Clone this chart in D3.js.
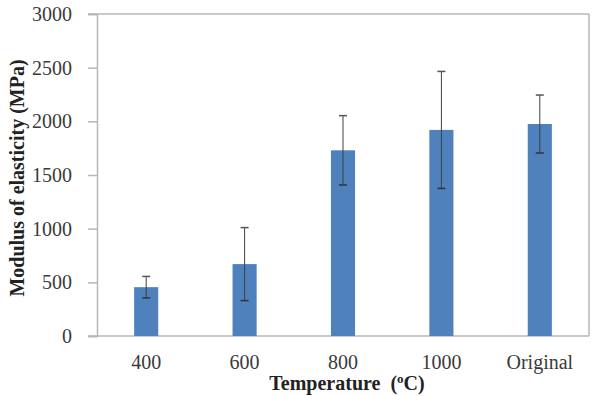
<!DOCTYPE html>
<html>
<head>
<meta charset="utf-8">
<script src="https://cdn.jsdelivr.net/npm/d3@7"></script>
<style>
  body { margin: 0; background: #fff; }
  text { font-family: "Liberation Serif", "Times New Roman", serif; }
</style>
</head>
<body>
<div id="chart-area"></div>
<script>
// Data
let categories = ["400", "600", "800", "1000", "Original"];
let modulus = [455, 670, 1730, 1920, 1975];
let errors = [100, 340, 323, 545, 270];
let yTicks = [0, 500, 1000, 1500, 2000, 2500, 3000];

let margin = {top: 14, right: 9, bottom: 60, left: 97};
let width = 598 - margin.left - margin.right;
let height = 396 - margin.top - margin.bottom;

let svg = d3.select("#chart-area").append("svg")
    .attr("width", 598)
    .attr("height", 396)
    .append("g")
    .attr("transform", "translate(" + margin.left + "," + margin.top + ")");

let xScale = d3.scaleBand()
    .domain(categories)
    .range([0, width])
    .paddingInner(0.755)
    .paddingOuter(0.3775);

let yScale = d3.scaleLinear()
    .domain([0, 3000])
    .range([height, 0]);

let axisColor = "#b7b7b7";

// frame (top and right)
svg.append("line")
    .attr("x1", -9).attr("x2", width)
    .attr("y1", 0).attr("y2", 0)
    .attr("stroke", axisColor).attr("stroke-width", 1.5);
svg.append("line")
    .attr("x1", width).attr("x2", width)
    .attr("y1", 0).attr("y2", height)
    .attr("stroke", axisColor).attr("stroke-width", 1.5);

// y axis
let yAxis = d3.axisLeft(yScale)
    .tickValues(yTicks)
    .tickFormat(d3.format("d"))
    .tickSize(9)
    .tickPadding(16);

let yg = svg.append("g").attr("class", "y-axis").call(yAxis);
yg.select(".domain").attr("stroke", axisColor).attr("stroke-width", 1.5);
yg.selectAll(".tick line").attr("stroke", axisColor).attr("stroke-width", 1.5);
yg.selectAll(".tick text")
    .style("font-family", "Liberation Serif, serif")
    .style("font-size", "20px")
    .attr("fill", "#3a3a3a");

// x axis
let xAxis = d3.axisBottom(xScale)
    .tickSize(0)
    .tickPadding(19);

let xg = svg.append("g")
    .attr("class", "x-axis")
    .attr("transform", "translate(0," + height + ")")
    .call(xAxis);
xg.select(".domain").remove();
xg.selectAll(".tick text")
    .style("font-family", "Liberation Serif, serif")
    .style("font-size", "20px")
    .attr("fill", "#3a3a3a");

// bottom line (extends left like a tick)
svg.append("line")
    .attr("x1", -9).attr("x2", width)
    .attr("y1", height).attr("y2", height)
    .attr("stroke", axisColor).attr("stroke-width", 1.5);

// bars
svg.selectAll(".bar")
    .data(categories)
    .enter()
    .append("rect")
    .attr("class", "bar")
    .attr("x", d => xScale(d))
    .attr("width", xScale.bandwidth())
    .attr("y", (d, i) => yScale(modulus[i]))
    .attr("height", (d, i) => height - yScale(modulus[i]))
    .attr("fill", "#4f81bd");

// error bars
let errG = svg.selectAll(".err")
    .data(categories)
    .enter()
    .append("g")
    .attr("class", "err")
    .attr("transform", d => "translate(" + (xScale(d) + xScale.bandwidth() / 2) + ",0)");

errG.append("line")
    .attr("x1", 0).attr("x2", 0)
    .attr("y1", (d, i) => yScale(modulus[i] + errors[i]))
    .attr("y2", (d, i) => yScale(modulus[i] - errors[i]))
    .attr("stroke", "#404040")
    .attr("stroke-width", 1);

errG.append("line")
    .attr("x1", -4).attr("x2", 4)
    .attr("y1", (d, i) => yScale(modulus[i] + errors[i]))
    .attr("y2", (d, i) => yScale(modulus[i] + errors[i]))
    .attr("stroke", "#555")
    .attr("stroke-width", 1.5);

errG.append("line")
    .attr("x1", -4).attr("x2", 4)
    .attr("y1", (d, i) => yScale(modulus[i] - errors[i]))
    .attr("y2", (d, i) => yScale(modulus[i] - errors[i]))
    .attr("stroke", "#333")
    .attr("stroke-width", 1.5);

// Axis titles
svg.append("text")
    .attr("x", -164)
    .attr("y", -73)
    .attr("text-anchor", "middle")
    .attr("transform", "rotate(-90)")
    .style("font-size", "20px")
    .style("font-weight", "bold")
    .attr("fill", "#222")
    .text("Modulus of elasticity (MPa)");

let xt = svg.append("text")
    .attr("x", width / 2 + 4)
    .attr("y", height + 54)
    .attr("text-anchor", "middle")
    .style("font-size", "20px")
    .style("font-weight", "bold")
    .attr("fill", "#222");
xt.append("tspan").text("Temperature\u00a0 (");
xt.append("tspan").attr("dy", -7).style("font-size", "13px").text("o");
xt.append("tspan").attr("dy", 7).text("C)");
</script>
</body>
</html>
